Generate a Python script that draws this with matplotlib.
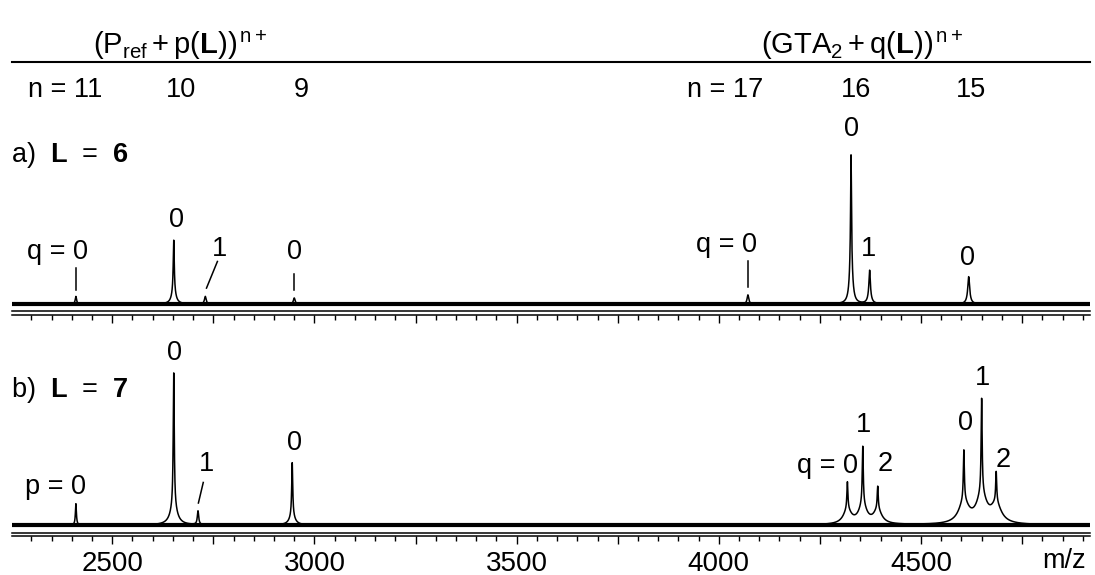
import numpy as np
import matplotlib
matplotlib.use('Agg')
import matplotlib.pyplot as plt
from matplotlib.lines import Line2D
from matplotlib.ticker import MultipleLocator, FuncFormatter
from matplotlib.transforms import offset_copy

plt.rcParams['font.family'] = ['Liberation Sans', 'DejaVu Sans']
plt.rcParams['mathtext.fontset'] = 'custom'
plt.rcParams['mathtext.rm'] = 'Liberation Sans'
plt.rcParams['mathtext.it'] = 'Liberation Sans:italic'
plt.rcParams['mathtext.bf'] = 'Liberation Sans:bold'

# panel a (L = 6): sharp peaks and broad bases (m/z, rel. height, half width)
sharp_a_mz = [2410, 2652, 2730, 2950, 4072, 4327, 4373, 4618]
sharp_a_h = [0.05, 0.34, 0.05, 0.04, 0.06, 0.66, 0.17, 0.14]
sharp_a_w = [2, 1.5, 2.5, 2.5, 2.5, 1.2, 2, 2.5]
broad_a_mz = [2652, 4327, 4373, 4618]
broad_a_h = [0.08, 0.32, 0.05, 0.04]
broad_a_w = [6, 4, 5, 5]

# panel b (L = 7)
sharp_b_mz = [2410, 2652, 2712, 2945, 4318, 4356, 4393, 4606, 4650, 4686]
sharp_b_h = [0.14, 0.88, 0.09, 0.35, 0.18, 0.38, 0.15, 0.33, 0.62, 0.20]
sharp_b_w = [1.5, 1.5, 2, 1.5, 1.5, 1.5, 1.5, 1.5, 1.5, 1.5]
broad_b_mz = [2652, 2945, 4318, 4356, 4393, 4606, 4650, 4686]
broad_b_h = [0.12, 0.06, 0.09, 0.12, 0.09, 0.14, 0.18, 0.12]
broad_b_w = [10, 8, 12, 12, 12, 15, 15, 15]

# peak labels (text, m/z, height)
labels_a = [("q = 0", 2364, 0.34), ("0", 2658, 0.55), ("1", 2765, 0.36),
            ("0", 2950, 0.34), ("q = 0", 4020, 0.39), ("0", 4327, 1.15),
            ("1", 4371, 0.36), ("0", 4616, 0.30)]
labels_b = [("p = 0", 2360, 0.25), ("0", 2653, 1.13), ("1", 2733, 0.40),
            ("0", 2950, 0.54), ("q = 0", 4268, 0.39), ("1", 4359, 0.66),
            ("2", 4411, 0.40), ("0", 4611, 0.67), ("1", 4653, 0.97),
            ("2", 4703, 0.43)]
# marker lines (mz0, y0, mz1, y1)
marks_a = [(2410, 0.24, 2410, 0.09), (2760, 0.28, 2733, 0.105),
           (2950, 0.20, 2950, 0.09), (4072, 0.28, 4072, 0.11)]
marks_b = [(2725, 0.28, 2713, 0.145)]

xmin, xmax = 2252, 4918
mz = np.arange(xmin, xmax, 0.25)


def spectrum(pos, h, w):
    y = np.zeros_like(mz)
    for p, a, g in zip(pos, h, w):
        y += a * g**2 / ((mz - p)**2 + g**2)
    return y


fig = plt.figure(figsize=(10.95, 5.75), dpi=100)
W, H = 1095, 575
ax_a = fig.add_axes([12 / W, 1 - 315 / H, 1078 / W, 200 / H])
ax_b = fig.add_axes([12 / W, 1 - 536 / H, 1078 / W, 200 / H])

panels = [
    (ax_a, sharp_a_mz, sharp_a_h, sharp_a_w, broad_a_mz, broad_a_h, broad_a_w,
     labels_a, marks_a, r'a)  $\mathbf{L}$  =  $\mathbf{6}$', 0.80),
    (ax_b, sharp_b_mz, sharp_b_h, sharp_b_w, broad_b_mz, broad_b_h, broad_b_w,
     labels_b, marks_b, r'b)  $\mathbf{L}$  =  $\mathbf{7}$', 0.73),
]

for ax, smz, sh, sw, bmz, bh, bw, labs, marks, title, ty in panels:
    y = spectrum(smz, sh, sw) + spectrum(bmz, bh, bw)
    ax.axhline(0, color='k', lw=3.0)
    ax.plot(mz, y, color='k', lw=1.1)
    for t, x, yy in labs:
        ax.text(x, yy, t, ha='center', va='center', fontsize=19.5)
    for x0, y0, x1, y1 in marks:
        ax.plot([x0, x1], [y0, y1], color='k', lw=1.1)
    ax.text(-0.001, ty, title, transform=ax.transAxes, ha='left', va='center',
            fontsize=19.5)
    ax.set_xlim(xmin, xmax)
    ax.set_ylim(-0.072, 1.243)
    for s in ['top', 'left', 'right']:
        ax.spines[s].set_visible(False)
    ax.spines['bottom'].set_linewidth(1.1)
    ax.plot([0, 1], [0, 0], color='k', lw=1.1, clip_on=False,
            transform=offset_copy(ax.transAxes, fig=fig, y=3.5, units='dots'))
    ax.set_yticks([])
    ax.xaxis.set_major_locator(MultipleLocator(250))
    ax.xaxis.set_minor_locator(MultipleLocator(50))
    ax.xaxis.set_major_formatter(
        FuncFormatter(lambda v, p: f'{v:.0f}' if v % 500 == 0 else ''))
    ax.tick_params(axis='x', which='major', length=5.5, width=1.0,
                   labelsize=20, pad=5)
    ax.tick_params(axis='x', which='minor', length=3.8, width=1.0)

ax_a.tick_params(axis='x', labelbottom=False)
fig.text(1086 / W, 1 - 561 / H, 'm/z', ha='right', va='center', fontsize=19.5)

# header
fig.add_artist(Line2D([12 / W, 1090 / W], [1 - 62 / H] * 2, color='k', lw=1.5))
fig.text(180 / W, 1 - 54 / H,
         r'$\mathrm{(P_{ref}+p(\mathbf{L}))^{\,n+}}$',
         ha='center', va='baseline', fontsize=21)
fig.text(862 / W, 1 - 54 / H,
         r'$\mathrm{(GTA_2+q(\mathbf{L}))^{\,n+}}$',
         ha='center', va='baseline', fontsize=21)
for t, x in [('n = 11', 65), ('10', 181), ('9', 301),
             ('n = 17', 725), ('16', 856), ('15', 971)]:
    fig.text(x / W, 1 - 90 / H, t, ha='center', va='center', fontsize=19.5)

fig.savefig('out.png', dpi=100)
